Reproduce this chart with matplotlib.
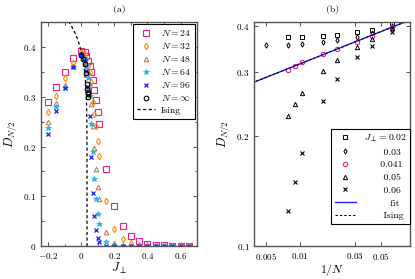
import numpy as np
import matplotlib
matplotlib.use("Agg")
import matplotlib.pyplot as plt
from matplotlib.ticker import FixedLocator, MultipleLocator, FuncFormatter, NullLocator

plt.rcParams["font.family"] = "serif"
plt.rcParams["font.serif"] = ["cmr10", "DejaVu Serif"]
plt.rcParams["mathtext.fontset"] = "cm"
plt.rcParams["axes.formatter.use_mathtext"] = True

# --- panel (a): D_{N/2} vs J_perp for several chain lengths ---
J = [-0.2, -0.15, -0.1, -0.05, 0, 0.02, 0.03, 0.04, 0.05, 0.06, 0.07, 0.08, 0.09,
     0.1, 0.11, 0.15, 0.2, 0.25, 0.3, 0.35, 0.4, 0.45, 0.5, 0.55, 0.6, 0.65]
D_24 = [0.289, 0.319, 0.349, 0.377, 0.392, 0.389, 0.381, 0.372, 0.362, 0.350, 0.334, 0.314, 0.293,
        0.270, 0.246, 0.155, 0.080, 0.041, 0.021, 0.011, 0.005, 0.003, 0.002, 0.001, 0.001, 0.0005]
D_32 = [0.269, 0.302, 0.337, 0.367, 0.390, 0.385, 0.375, 0.362, 0.350, 0.330, 0.290, 0.266, 0.241,
        0.211, 0.180, 0.090, 0.035, 0.015, 0.006, 0.003, 0.001, 0.0, 0.0, 0.0, 0.0, 0.0]
D_48 = [0.249, 0.287, 0.323, 0.362, 0.388, 0.380, 0.368, 0.350, 0.323, 0.285, 0.242, 0.197, 0.155,
        0.119, 0.095, 0.029, 0.007, 0.002, 0.0, 0.0, 0.0, 0.0, 0.0, 0.0, 0.0, 0.0]
D_64 = [0.237, 0.279, 0.318, 0.360, 0.386, 0.376, 0.360, 0.338, 0.302, 0.245, 0.189, 0.135, 0.094,
        0.064, 0.045, 0.009, 0.001, 0.0, 0.0, 0.0, 0.0, 0.0, 0.0, 0.0, 0.0, 0.0]
D_96 = [0.225, 0.271, 0.317, 0.359, 0.384, 0.372, 0.352, 0.320, 0.262, 0.179, 0.107, 0.060, 0.033,
        0.017, 0.008, 0.0, 0.0, 0.0, 0.0, 0.0, 0.0, 0.0, 0.0, 0.0, 0.0, 0.0]
J_inf = [0.0, 0.01, 0.02, 0.03, 0.035, 0.037, 0.038, 0.039, 0.04]
D_inf = [0.383, 0.376, 0.365, 0.347, 0.325, 0.316, 0.310, 0.305, 0.300]

# Ising curve D = A (Jc - J)^(1/8)
Jc = 0.035
A_ising = 0.594

# --- panel (b): D_{N/2} vs 1/N at fixed J_perp ---
N_002 = [128, 96, 64, 48, 32, 24, 16]
D_002 = [0.374, 0.374, 0.376, 0.378, 0.384, 0.390, 0.407]
N_003 = [200, 128, 96, 64, 48, 32, 24, 16]
D_003 = [0.354, 0.355, 0.358, 0.362, 0.366, 0.374, 0.382, 0.400]
N_0041 = [128, 112, 96, 64, 48, 32, 24, 16]
D_0041 = [0.304, 0.311, 0.318, 0.335, 0.346, 0.362, 0.376, 0.398]
N_005 = [128, 112, 96, 64, 48, 32, 24, 16]
D_005 = [0.227, 0.245, 0.262, 0.302, 0.323, 0.350, 0.368, 0.395]
N_006 = [128, 112, 96, 64, 48, 32, 24, 16]
D_006 = [0.125, 0.150, 0.180, 0.249, 0.286, 0.329, 0.353, 0.385]

fig = plt.figure(figsize=(4.15, 2.79), dpi=100)
ax1 = fig.add_axes([0.098, 0.118, 0.377, 0.803])
ax2 = fig.add_axes([0.613, 0.118, 0.375, 0.803])

ms = 3.3
ax1.plot(J, D_24, ls="none", marker="s", ms=ms + 0.6, mfc="none", mec="#ec1c8c", mew=0.8, label=r"$N = 24$")
ax1.plot(J, D_32, ls="none", marker="d", ms=ms, mfc="none", mec="#ff8c00", mew=0.8, label=r"$N = 32$")
ax1.plot(J, D_48, ls="none", marker="^", ms=ms, mfc="none", mec="#c0804a", mew=0.8, label=r"$N = 48$")
ax1.plot(J, D_64, ls="none", marker="*", ms=ms + 0.8, color="#1eb4f0", mew=0.5, label=r"$N = 64$")
ax1.plot(J, D_96, ls="none", marker="x", ms=ms, color="#1a1aff", mew=0.9, label=r"$N = 96$")
ax1.plot(J_inf, D_inf, ls="none", marker="o", ms=ms, mfc="none", mec="black", mew=0.8, label=r"$N = \infty$")

Jline = Jc - np.concatenate([np.linspace(0.2, 0.001, 200), np.logspace(-3, -14, 100)])
Dline = A_ising * (Jc - Jline) ** 0.125
Jline = np.append(Jline, Jc)
Dline = np.append(Dline, 0.0)
ax1.plot(Jline, Dline, ls="--", color="black", lw=0.9, dashes=(2.5, 2), label="Ising")

ax1.set_xlim(-0.245, 0.7)
ax1.set_ylim(0, 0.45)
ax1.xaxis.set_major_locator(FixedLocator([-0.2, 0, 0.2, 0.4, 0.6]))
ax1.xaxis.set_minor_locator(MultipleLocator(0.1))
ax1.yaxis.set_major_locator(FixedLocator([0, 0.1, 0.2, 0.3, 0.4]))
ax1.yaxis.set_minor_locator(MultipleLocator(0.05))
fmt = FuncFormatter(lambda v, p: r"$%g$" % round(v, 3))
ax1.xaxis.set_major_formatter(fmt)
ax1.yaxis.set_major_formatter(fmt)
ax1.set_xlabel(r"$J_\perp$", fontsize=9, labelpad=0)
ax1.set_ylabel(r"$D_{N/2}$", fontsize=9, labelpad=2)
ax1.set_title("(a)", fontsize=7, pad=7)
leg1 = ax1.legend(loc="upper right", fontsize=7, frameon=True, fancybox=False, edgecolor="black",
                  handlelength=1.8, handletextpad=0.6, labelspacing=0.3, borderpad=0.4,
                  borderaxespad=0.25, framealpha=1)
leg1.get_frame().set_linewidth(0.8)

# panel (b)
ax2.plot(1 / np.array(N_002), D_002, ls="none", marker="s", ms=3.3, mfc="none", mec="black", mew=0.7,
         label=r"$J_\perp = 0.02$")
ax2.plot(1 / np.array(N_003), D_003, ls="none", marker="d", ms=2.7, mfc="none", mec="black", mew=0.7,
         label="      0.03")
ax2.plot(1 / np.array(N_0041), D_0041, ls="none", marker="o", ms=3.1, mfc="none", mec="#ec1c8c", mew=0.8,
         label="     0.041")
ax2.plot(1 / np.array(N_005), D_005, ls="none", marker="^", ms=3.1, mfc="none", mec="black", mew=0.7,
         label="      0.05")
ax2.plot(1 / np.array(N_006), D_006, ls="none", marker="x", ms=2.7, color="black", mew=0.8,
         label="      0.06")

xfit = 1 / np.array(N_0041)
b, loga = np.polyfit(np.log(xfit), np.log(D_0041), 1)
xs = np.array([0.003, 0.1])
ax2.plot(xs, np.exp(loga) * xs ** b, color="#2020ff", lw=1.0, label="        fit")
loga_is = np.mean(np.log(D_0041) - 0.125 * np.log(xfit))
ax2.plot(xs, np.exp(loga_is) * xs ** 0.125, color="black", lw=0.7, ls="--", dashes=(2.5, 2),
         label="      Ising")

ax2.set_xscale("log")
ax2.set_yscale("log")
ax2.set_xlim(0.004, 0.09)
ax2.set_ylim(0.1, 0.41)
ax2.xaxis.set_major_locator(FixedLocator([0.005, 0.01, 0.03, 0.05]))
ax2.xaxis.set_minor_locator(NullLocator())
ax2.yaxis.set_major_locator(FixedLocator([0.1, 0.2, 0.3, 0.4]))
ax2.yaxis.set_minor_locator(NullLocator())
ax2.xaxis.set_major_formatter(fmt)
ax2.yaxis.set_major_formatter(fmt)
ax2.set_xlabel(r"$1/N$", fontsize=8.5, labelpad=0)
ax2.set_ylabel(r"$D_{N/2}$", fontsize=9, labelpad=2)
ax2.set_title("(b)", fontsize=7, pad=7)
leg2 = ax2.legend(loc="lower right", bbox_to_anchor=(1.0, 0.1), fontsize=7, frameon=True, fancybox=False,
                  edgecolor="black", handlelength=2.2, handletextpad=0.8, labelspacing=0.4,
                  borderpad=0.35, borderaxespad=0.0, framealpha=1)
leg2.get_frame().set_linewidth(0.8)

for ax in (ax1, ax2):
    ax.tick_params(which="both", direction="in", top=True, right=True, labelsize=6.5, colors="#333333",
                   width=0.6)
    ax.tick_params(which="major", length=3)
    ax.tick_params(which="minor", length=1.8)
    ax.tick_params(labelcolor="black")
    for s in ax.spines.values():
        s.set_color("#555555")
        s.set_linewidth(1.0)

fig.savefig("out.png", dpi=100)
